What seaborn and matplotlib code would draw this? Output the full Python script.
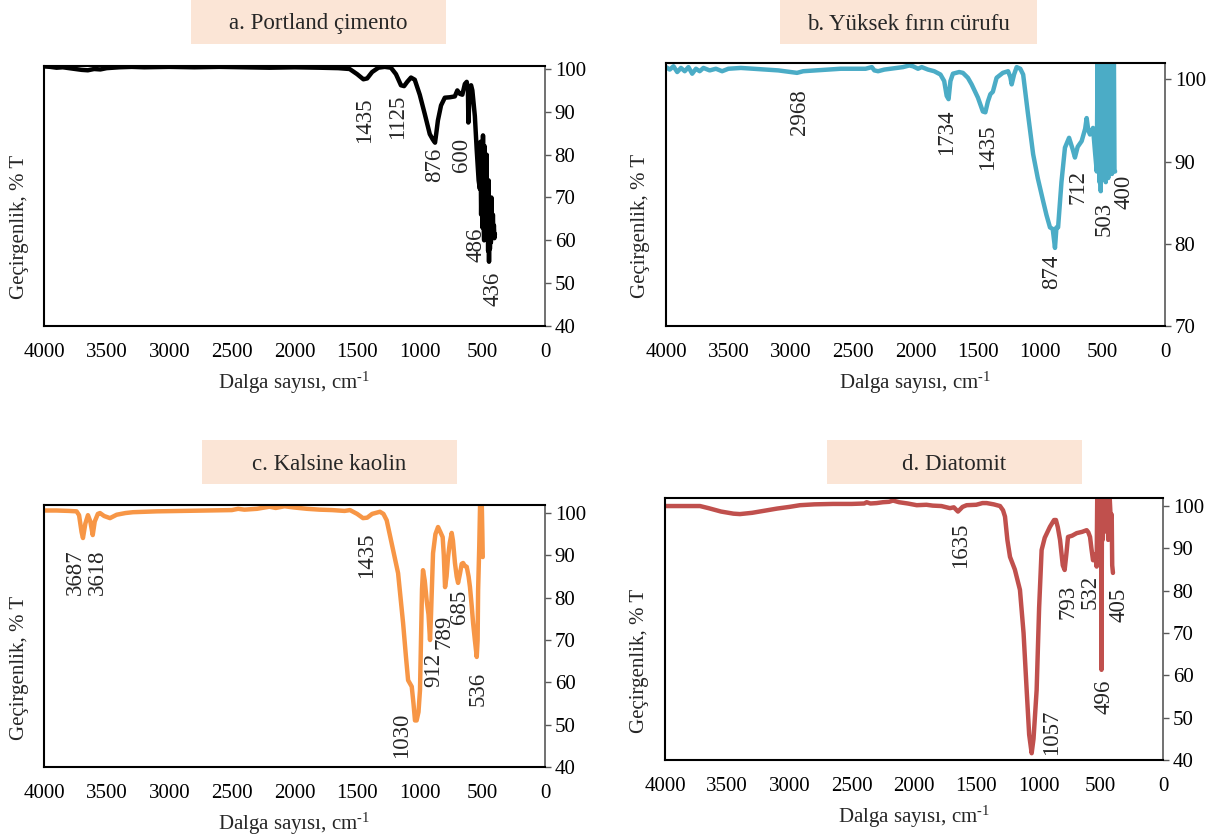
import numpy as np
import pandas as pd
import matplotlib
matplotlib.use("Agg")
import matplotlib.pyplot as plt
from matplotlib.patches import Rectangle
import seaborn as sns

# ---------------- DATA ----------------
# Panel a: Portland cement
a_wn = [4000, 3950, 3900, 3850, 3800, 3750, 3700, 3650, 3600, 3550, 3500, 3400, 3300, 3200, 3000,
        2800, 2600, 2400, 2200, 2000, 1800, 1650, 1560, 1500, 1450, 1420, 1380, 1330, 1280, 1230,
        1190, 1150, 1125, 1100, 1070, 1040, 1000, 960, 920, 895, 878, 868, 855, 830, 800, 760, 720,
        700, 680, 660, 640, 625, 615, 612, 608, 600, 590, 580, 560, 545, 530, 520, 515, 510, 505,
        500, 495, 490, 486, 482, 478, 474, 470, 466, 462, 458, 454, 450, 447, 444, 440, 436, 432,
        428, 424, 420, 416, 412, 408, 404, 400]
a_t = [100.6, 100.5, 100.3, 100.4, 100.2, 100.0, 99.8, 99.7, 100.0, 99.9, 100.2, 100.4, 100.5, 100.4, 100.5,
       100.4, 100.5, 100.4, 100.3, 100.4, 100.3, 100.2, 100.0, 98.8, 97.6, 97.8, 99.3, 100.3, 100.5, 100.3,
       98.8, 96.2, 96.0, 97.0, 98.0, 97.5, 94.0, 89.5, 84.8, 83.5, 82.8, 85.0, 88.0, 91.5, 93.3, 93.4, 93.6,
       95.0, 94.2, 94.0, 96.5, 97.0, 95.0, 87.5, 90.0, 95.8, 96.2, 95.0, 89.0, 81.0, 74.0, 72.0, 83.0, 66.0, 78.0,
       63.0, 84.5, 64.0, 60.0, 82.0, 65.0, 76.0, 62.0, 80.0, 60.0, 70.0, 57.5, 74.0, 55.0, 68.0, 58.0, 62.0, 59.5,
       70.0, 64.0, 60.5, 66.0, 61.0, 63.5, 60.5, 61.5]
a_lab = ["1435", "1125", "876", "600", "486", "436"]
a_lab_wn = [1437, 1178, 878, 664, 551, 415]
a_lab_t = [93.3, 94.0, 81.6, 84.0, 63.0, 52.6]

# Panel b: blast furnace slag
b_wn = [4000, 3970, 3940, 3910, 3880, 3850, 3820, 3790, 3760, 3730, 3700, 3650, 3600, 3550, 3500, 3400,
        3300, 3200, 3100, 3000, 2950, 2900, 2800, 2700, 2600, 2500, 2400, 2350, 2330, 2300, 2250, 2200,
        2150, 2100, 2050, 2020, 1980, 1950, 1900, 1850, 1800, 1770, 1750, 1735, 1720, 1700, 1650, 1620,
        1580, 1550, 1500, 1460, 1440, 1420, 1400, 1380, 1350, 1300, 1258, 1240, 1229, 1210, 1189, 1160,
        1137, 1100, 1057, 1020, 977, 950, 922, 900, 882, 870, 857, 830, 802, 769, 740, 722, 700, 668,
        640, 628, 615, 601, 577, 560, 547, 540, 535, 530, 525, 520, 515, 510, 505, 500, 495, 490, 485,
        480, 475, 470, 465, 460, 455, 450, 445, 440, 435, 430, 425, 420, 415, 410, 405, 400]
b_t = [101.5, 101.2, 101.6, 100.9, 101.4, 101.0, 101.5, 100.7, 101.3, 101.0, 101.4, 101.1, 101.3, 101.0, 101.3, 101.4,
       101.3, 101.2, 101.1, 100.9, 100.8, 101.0, 101.1, 101.2, 101.3, 101.3, 101.3, 101.5, 101.1, 101.0, 101.2, 101.3,
       101.4, 101.5, 101.7, 101.6, 101.3, 101.5, 101.2, 101.0, 100.6, 99.8, 98.0, 97.6, 99.8, 100.7, 100.9, 100.8,
       100.2, 99.4, 97.8, 96.1, 96.0, 97.3, 98.2, 98.5, 100.2, 100.8, 101.0, 100.3, 99.4, 100.6, 101.5, 101.3,
       100.6, 96.0, 90.9, 88.0, 85.2, 83.5, 82.0, 81.8, 79.5, 82.0, 82.0, 87.5, 91.7, 92.9, 91.5, 90.5, 91.8, 92.5,
       94.0, 95.3, 93.8, 93.3, 94.1, 91.0, 88.8, 104.0, 89.5, 104.0, 87.5, 104.0, 86.4, 104.0, 88.0, 104.0, 89.0, 104.0, 88.5,
       104.0, 87.5, 104.0, 89.0, 104.0, 88.0, 104.0, 89.0, 104.0, 89.0, 104.0, 88.5, 104.0, 89.0, 104.0, 89.0, 88.8]
b_lab = ["2968", "1734", "1435", "874", "712", "503", "400"]
b_lab_wn = [2932, 1755, 1419, 906, 697, 489, 329]
b_lab_t = [98.8, 96.3, 94.5, 78.7, 89.0, 85.1, 88.4]

# Panel c: calcined kaolin
c_wn = [4000, 3900, 3800, 3740, 3720, 3700, 3689, 3670, 3649, 3630, 3611, 3595, 3570, 3553, 3520, 3473,
        3420, 3350, 3289, 3100, 2900, 2700, 2500, 2450, 2400, 2300, 2200, 2150, 2080, 2000, 1900, 1800,
        1700, 1600, 1557, 1500, 1453, 1420, 1380, 1318, 1290, 1264, 1240, 1213, 1173, 1133, 1110, 1093,
        1064, 1050, 1038, 1025, 1010, 998, 990, 982, 974, 960, 945, 930, 918, 910, 894, 875, 854, 835,
        817, 808, 798, 786, 774, 760, 745, 735, 719, 705, 694, 680, 665, 654, 640, 625, 610, 599, 585,
        574, 560, 545, 538, 534, 525, 518, 512, 505, 500, 497]
c_t = [100.6, 100.6, 100.5, 100.4, 99.5, 95.5, 94.1, 97.5, 99.5, 98.0, 94.8, 98.0, 99.8, 100.0, 99.3, 98.8,
       99.6, 100.0, 100.2, 100.4, 100.5, 100.6, 100.7, 101.0, 100.8, 101.0, 101.5, 101.2, 101.6, 101.3, 101.0, 100.8,
       100.7, 100.5, 100.7, 99.8, 98.8, 98.9, 99.8, 100.3, 99.8, 98.3, 95.0, 91.3, 85.8, 74.0, 66.0, 60.5,
       59.0, 55.0, 51.0, 51.0, 53.0, 58.2, 70.0, 82.0, 86.5, 84.0, 79.4, 76.0, 70.0, 76.0, 90.5, 95.0, 96.7, 95.5,
       94.3, 90.0, 82.5, 85.0, 89.6, 93.0, 95.3, 93.5, 88.2, 85.0, 83.5, 85.5, 88.0, 88.2, 87.5, 87.3, 85.0, 82.5, 78.0,
       74.0, 70.0, 66.0, 70.0, 81.8, 92.0, 102.5, 103.0, 102.5, 95.0, 89.6]
c_lab = ["3687", "3618", "1435", "1030", "912", "789", "685", "536"]
c_lab_wn = [3752, 3577, 1421, 1142, 886, 806, 686, 535]
c_lab_t = [91.3, 91.3, 95.3, 52.8, 67.0, 75.9, 81.8, 62.4]

# Panel d: diatomite
d_wn = [4000, 3900, 3800, 3719, 3650, 3550, 3450, 3398, 3300, 3200, 3100, 3000, 2916, 2800, 2650, 2500,
        2400, 2380, 2350, 2300, 2250, 2200, 2169, 2120, 2050, 1978, 1900, 1850, 1780, 1711, 1680, 1647,
        1610, 1577, 1500, 1450, 1416, 1360, 1309, 1285, 1269, 1250, 1229, 1190, 1149, 1120, 1095, 1075,
        1055, 1040, 1015, 995, 975, 950, 908, 875, 860, 845, 827, 805, 790, 775, 763, 730, 693, 650, 613,
        600, 586, 575, 562, 545, 533, 528, 523, 518, 513, 508, 503, 498, 494, 490, 485, 480, 475, 470,
        460, 450, 440, 430, 420, 412, 408, 402]
d_t = [100.0, 100.0, 100.0, 100.0, 99.5, 98.7, 98.2, 98.1, 98.4, 98.9, 99.4, 99.8, 100.2, 100.4, 100.5, 100.5,
       100.6, 100.9, 100.6, 100.7, 100.9, 101.0, 101.3, 100.9, 100.6, 100.2, 100.3, 100.1, 100.0, 99.5, 99.7, 98.7,
       99.8, 100.2, 100.3, 100.7, 100.7, 100.4, 100.0, 99.0, 97.5, 92.0, 88.0, 85.0, 80.2, 70.0, 56.5, 46.0,
       41.6, 45.0, 56.5, 76.0, 89.6, 92.5, 95.1, 96.7, 96.7, 95.0, 92.0, 86.0, 84.9, 89.0, 92.7, 93.0, 93.6, 93.9, 94.3,
       93.8, 92.7, 90.0, 87.2, 88.5, 85.7, 103.0, 92.0, 103.0, 88.0, 103.0, 90.0, 103.0, 61.3, 103.0, 92.0, 103.0, 95.0, 103.0,
       94.0, 103.0, 92.0, 103.0, 97.0, 98.0, 86.0, 84.2]
d_lab = ["1635", "1057", "793", "532", "496", "405"]
d_lab_wn = [1623, 892, 763, 586, 474, 353]
d_lab_t = [96.2, 51.8, 81.3, 83.7, 58.9, 80.6]

titles = ["a. Portland çimento", "b. Yüksek fırın cürufu", "c. Kalsine kaolin", "d. Diatomit"]
x_ticks = [4000, 3500, 3000, 2500, 2000, 1500, 1000, 500, 0]
ylabel = "Geçirgenlik, % T"
xlabel = "Dalga sayısı, cm$^{\\text{-1}}$"

# ---------------- STYLE ----------------
sns.set_style("white")
plt.rcParams["font.family"] = ["Liberation Serif", "DejaVu Serif"]
plt.rcParams["mathtext.fontset"] = "custom"
plt.rcParams["mathtext.rm"] = "Liberation Serif"
plt.rcParams["mathtext.it"] = "Liberation Serif:italic"

W, H = 1215, 838
fig = plt.figure(figsize=(W / 100, H / 100), dpi=100)

def px_axes(l, t, r, b):
    return fig.add_axes([l / W, 1 - b / H, (r - l) / W, (b - t) / H])

panels = [
    dict(box=(44, 66, 545, 326), wn=a_wn, t=a_t, color="#000000", ylim=(40, 100.7), yt=range(40, 101, 10),
         lab=a_lab, lwn=a_lab_wn, lt=a_lab_t, tbox=(191, 0, 446, 44), ylab_y=0.38, ylx=-0.048),
    dict(box=(666, 63, 1165, 326), wn=b_wn, t=b_t, color="#4BACC6", ylim=(70, 102.0), yt=range(70, 101, 10),
         lab=b_lab, lwn=b_lab_wn, lt=b_lab_t, tbox=(780, 0, 1037, 44), ylab_y=0.38, ylx=-0.052),
    dict(box=(44, 505, 545, 767), wn=c_wn, t=c_t, color="#F79646", ylim=(40, 101.9), yt=range(40, 101, 10),
         lab=c_lab, lwn=c_lab_wn, lt=c_lab_t, tbox=(202, 440, 457, 484), ylab_y=0.38, ylx=-0.048),
    dict(box=(665, 498, 1163, 760), wn=d_wn, t=d_t, color="#C0504D", ylim=(40, 101.9), yt=range(40, 101, 10),
         lab=d_lab, lwn=d_lab_wn, lt=d_lab_t, tbox=(827, 440, 1082, 484), ylab_y=0.38, ylx=-0.052),
]

for p, title in zip(panels, titles):
    ax = px_axes(*p["box"])
    df = pd.DataFrame({"wn": p["wn"], "T": p["t"]})
    sns.lineplot(data=df, x="wn", y="T", ax=ax, color=p["color"], lw=3.2,
                 sort=False, estimator=None, solid_joinstyle="round", solid_capstyle="round")
    ax.set_xlim(4000, 0)
    ax.set_ylim(*p["ylim"])
    ax.set_xticks(x_ticks)
    ax.set_xticklabels([str(v) for v in x_ticks])
    ax.set_yticks(list(p["yt"]))
    ax.yaxis.tick_right()
    ax.tick_params(axis="x", length=0, pad=12, labelsize=15, colors="black")
    ax.tick_params(axis="y", length=4, width=1, pad=3, labelsize=15, color="#595959", labelcolor="black")
    for s in ["left", "top", "bottom"]:
        ax.spines[s].set_color("black")
        ax.spines[s].set_linewidth(1.5)
    ax.spines["right"].set_color("#595959")
    ax.spines["right"].set_linewidth(1.2)
    ax.set_xlabel(xlabel, fontsize=15, labelpad=6)
    ax.set_ylabel("")
    ax.text(p["ylx"], p["ylab_y"], ylabel, transform=ax.transAxes, rotation=90,
            ha="center", va="center", fontsize=15)
    for lab, x, y in zip(p["lab"], p["lwn"], p["lt"]):
        ax.text(x, y, lab, rotation=90, ha="center", va="top", fontsize=16.5)
    # title box
    x0, y0, x1, y1 = p["tbox"]
    fig.patches.append(Rectangle((x0 / W, 1 - y1 / H), (x1 - x0) / W, (y1 - y0) / H,
                                 transform=fig.transFigure, facecolor="#FBE5D6",
                                 edgecolor="none", zorder=0))
    fig.text((x0 + x1) / 2 / W, 1 - (y0 + y1 + 4) / 2 / H, title, ha="center", va="center", fontsize=16.5)

fig.savefig("out.png", dpi=100)
